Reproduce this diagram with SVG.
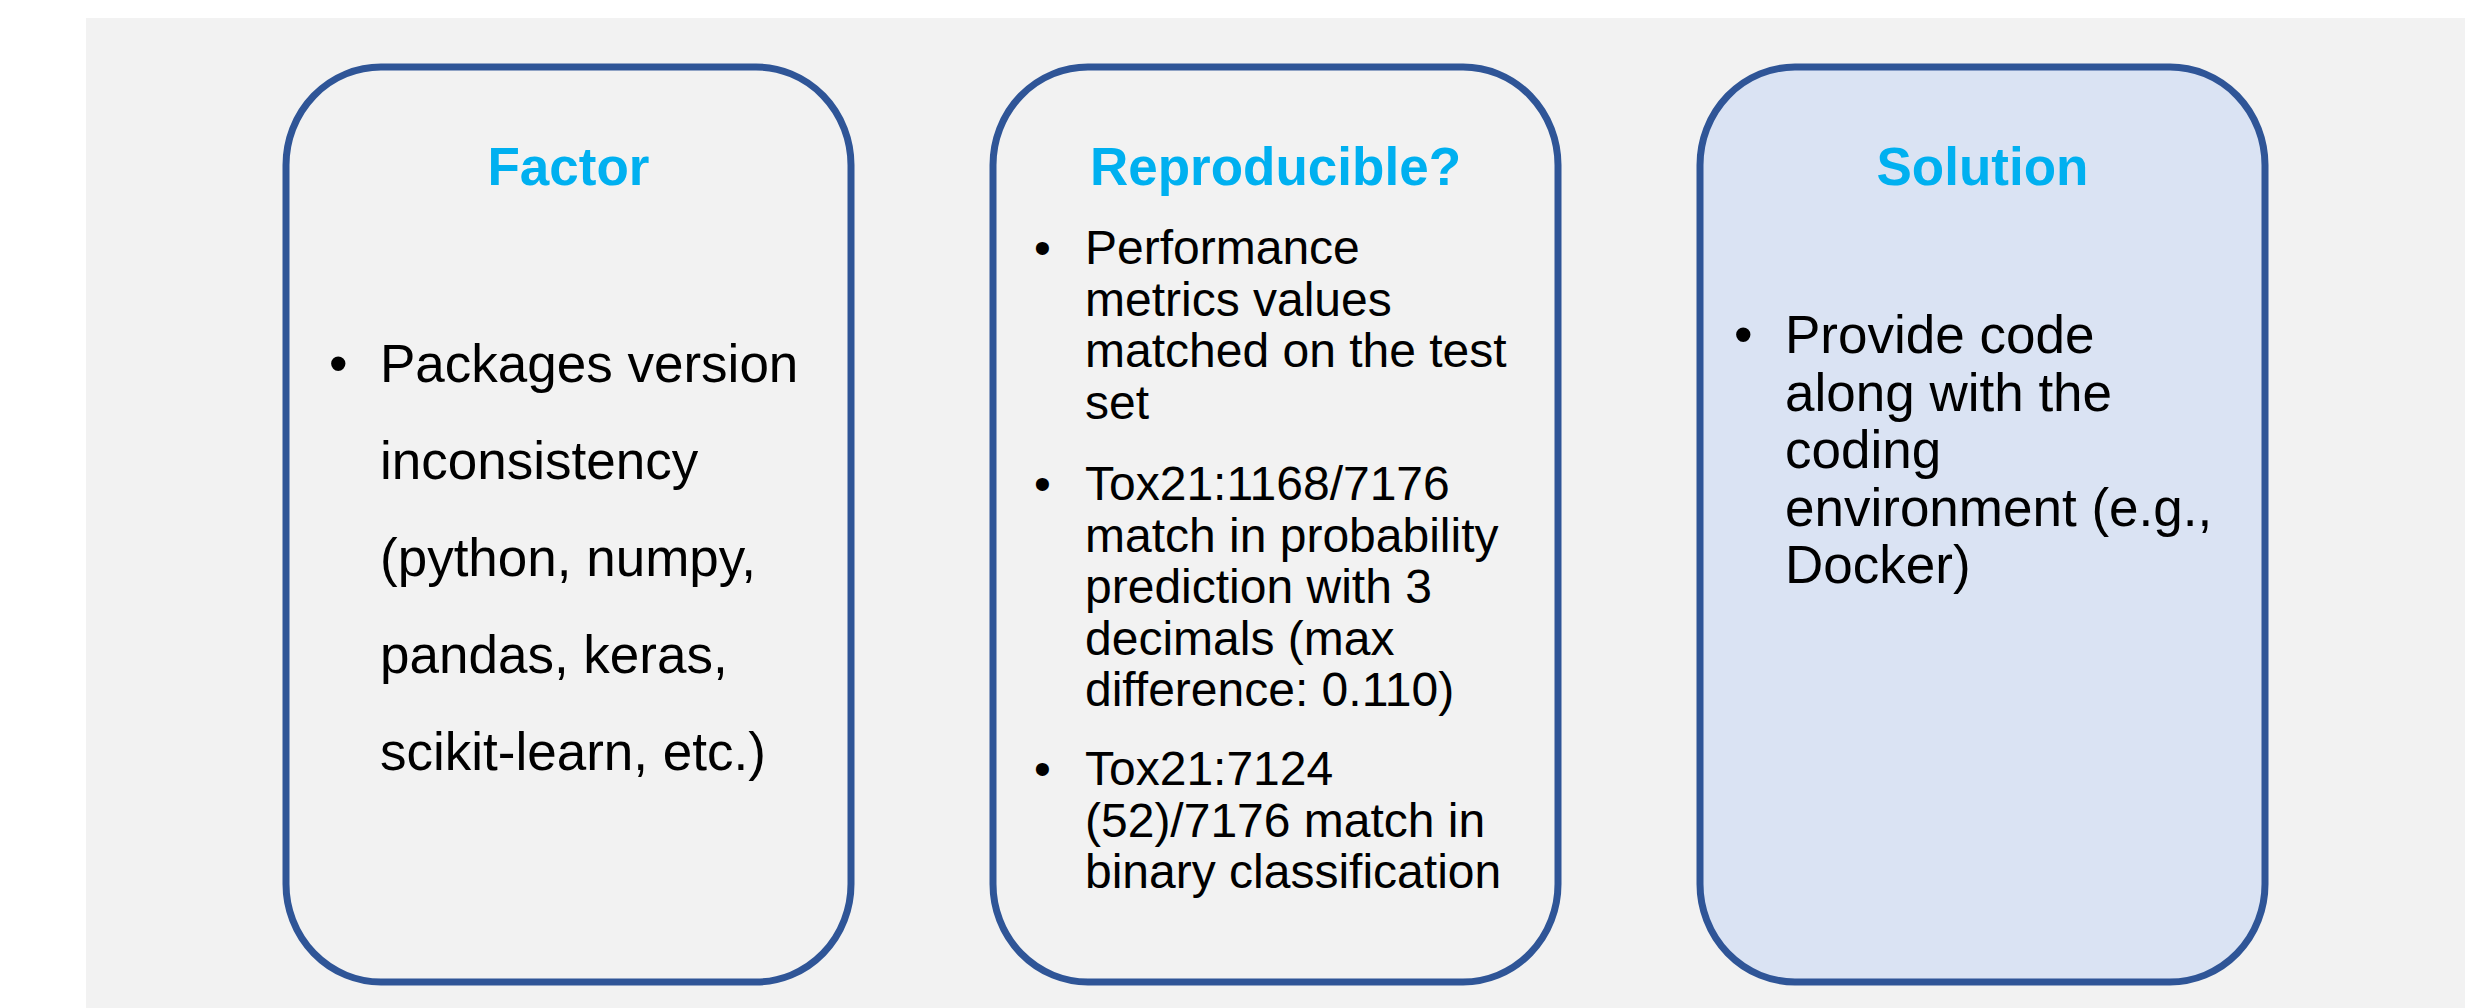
<svg xmlns="http://www.w3.org/2000/svg" width="2485" height="1008" viewBox="0 0 2485 1008">
  <style>
    .panel { fill: #F2F2F2; }
    .card { fill: #F2F2F2; stroke: #2F5597; stroke-width: 7; }
    .card.accent { fill: #DAE3F3; }
    .title { font-family: "Liberation Sans", Arial, sans-serif; font-weight: bold; font-size: 53px; fill: #00B0F0; text-anchor: middle; }
    .body { font-family: "Liberation Sans", Arial, sans-serif; fill: #000000; }
    .b53 { font-size: 53px; }
    .b48 { font-size: 48px; }
  </style>
  <rect x="0" y="0" width="2485" height="1008" fill="#FFFFFF"/>
  <rect class="panel" x="86" y="18" width="2379" height="990"/>

  <g id="factor">
    <rect class="card" x="286" y="67" width="565" height="915" rx="95" ry="98"/>
    <text class="title" x="568.5" y="185">Factor</text>
    <g class="body b53">
      <text x="329" y="382">•</text>
      <text x="380" y="382">Packages version</text>
      <text x="380" y="479">inconsistency</text>
      <text x="380" y="576">(python, numpy,</text>
      <text x="380" y="673">pandas, keras,</text>
      <text x="380" y="770">scikit-learn, etc.)</text>
    </g>
  </g>

  <g id="reproducible">
    <rect class="card" x="993" y="67" width="565" height="915" rx="95" ry="98"/>
    <text class="title" x="1275.5" y="185">Reproducible?</text>
    <g class="body b48">
      <text x="1034" y="264">•</text>
      <text x="1085" y="264">Performance</text>
      <text x="1085" y="315.5">metrics values</text>
      <text x="1085" y="367">matched on the test</text>
      <text x="1085" y="418.5">set</text>
      <text x="1034" y="500">•</text>
      <text x="1085" y="500">Tox21:1168/7176</text>
      <text x="1085" y="551.5">match in probability</text>
      <text x="1085" y="603">prediction with 3</text>
      <text x="1085" y="654.5">decimals (max</text>
      <text x="1085" y="706">difference: 0.110)</text>
      <text x="1034" y="785">•</text>
      <text x="1085" y="785">Tox21:7124</text>
      <text x="1085" y="836.5">(52)/7176 match in</text>
      <text x="1085" y="888">binary classification</text>
    </g>
  </g>

  <g id="solution">
    <rect class="card accent" x="1700" y="67" width="565" height="915" rx="95" ry="98"/>
    <text class="title" x="1982.5" y="185">Solution</text>
    <g class="body b53">
      <text x="1734" y="353">•</text>
      <text x="1785" y="353">Provide code</text>
      <text x="1785" y="410.5">along with the</text>
      <text x="1785" y="468">coding</text>
      <text x="1785" y="525.5">environment (e.g.,</text>
      <text x="1785" y="583">Docker)</text>
    </g>
  </g>

  <g id="connectors"/>
</svg>
